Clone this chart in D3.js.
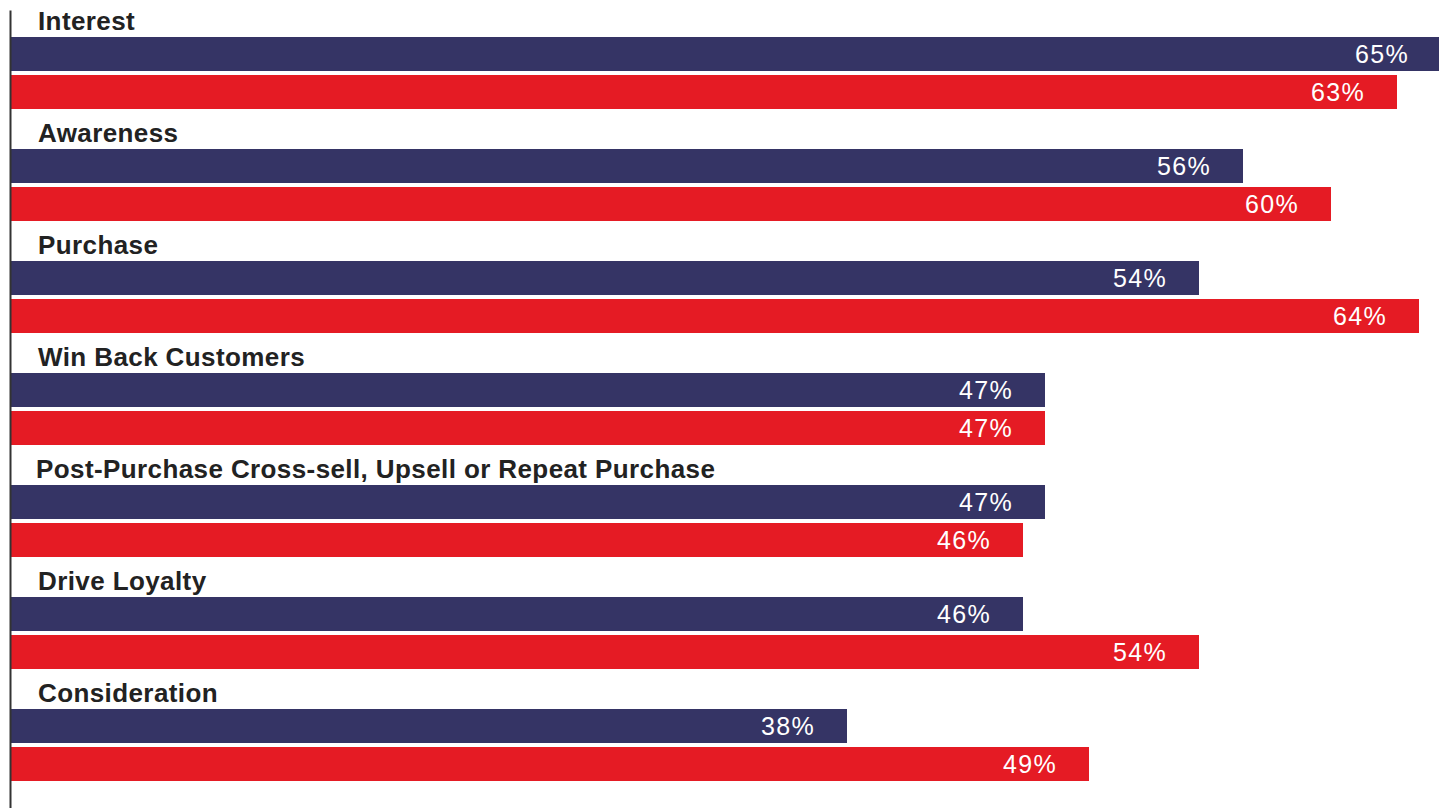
<!DOCTYPE html>
<html>
<head>
<meta charset="utf-8">
<script src="https://cdnjs.cloudflare.com/ajax/libs/d3/7.8.5/d3.min.js"></script>
<style>
  html, body { margin: 0; padding: 0; background: #ffffff; }
  svg { display: block; }
</style>
</head>
<body>
<svg id="chart" width="1439" height="808"></svg>
<script>
// Marketing goals, two survey series shown as paired horizontal bars
const categories = [
  "Interest",
  "Awareness",
  "Purchase",
  "Win Back Customers",
  "Post-Purchase Cross-sell, Upsell or Repeat Purchase",
  "Drive Loyalty",
  "Consideration"
];
const seriesNames = ["first", "second"];
const firstValues  = [65, 56, 54, 47, 47, 46, 38];
const secondValues = [63, 60, 64, 47, 46, 54, 49];
const seriesColors = ["#353465", "#E51B24"];

const W = 1439, H = 808;
const svg = d3.select("#chart");

const left = 11;
const pxPerPct = 22;
const x = d3.scaleLinear().domain([0, 65]).range([left, left + 65 * pxPerPct]);

// each category occupies one band: title on top, then the two bars
const y = d3.scaleBand().domain(categories).range([0, 7 * 112]).paddingInner(0);
const yInner = d3.scaleBand().domain(seriesNames).range([37, 109]).paddingInner(4 / 38);

const rows = categories.map((c, i) => ({
  category: c,
  bars: [
    { series: seriesNames[0], value: firstValues[i], color: seriesColors[0] },
    { series: seriesNames[1], value: secondValues[i], color: seriesColors[1] }
  ]
}));

const group = svg.selectAll("g.row")
  .data(rows)
  .join("g")
  .attr("class", "row")
  .attr("transform", d => `translate(0,${y(d.category)})`);

group.append("text")
  .attr("x", d => d.category.startsWith("Post") ? 36 : 38)
  .attr("y", 30)
  .attr("font-family", "Liberation Sans, Arial, Helvetica, sans-serif")
  .attr("font-weight", "bold")
  .attr("font-size", 26)
  .attr("letter-spacing", 0.4)
  .attr("fill", "#222222")
  .text(d => d.category);

group.selectAll("rect")
  .data(d => d.bars)
  .join("rect")
  .attr("x", x(0))
  .attr("y", d => yInner(d.series))
  .attr("width", d => x(d.value) - x(0))
  .attr("height", yInner.bandwidth())
  .attr("fill", d => d.color);

group.selectAll("text.value")
  .data(d => d.bars)
  .join("text")
  .attr("class", "value")
  .attr("x", d => x(d.value) - 32)
  .attr("y", d => yInner(d.series) + yInner.bandwidth() / 2)
  .attr("dy", "0.37em")
  .attr("text-anchor", "end")
  .attr("font-family", "Liberation Sans, Arial, Helvetica, sans-serif")
  .attr("font-size", 25)
  .attr("letter-spacing", 1.3)
  .attr("fill", "#ffffff")
  .text(d => d.value + "%");

// vertical baseline on the left
const yAxis = d3.axisLeft(d3.scaleLinear().range([10, H])).ticks(0).tickSize(0);
svg.append("g")
  .attr("transform", `translate(${left - 1},0)`)
  .call(yAxis)
  .call(g => g.select(".domain").attr("stroke", "#333333").attr("stroke-width", 2));
</script>
</body>
</html>
